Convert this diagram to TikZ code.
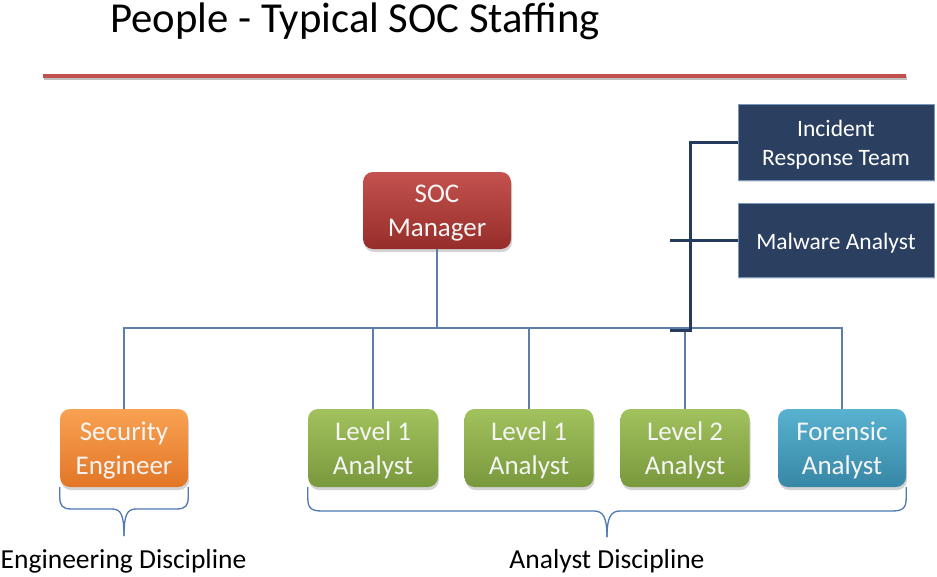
\documentclass[tikz,border=0pt]{standalone}
\usepackage{fontspec}
\setmainfont{Carlito}
\usetikzlibrary{shadows}
\definecolor{navy}{RGB}{43,63,96}
\definecolor{navyline}{RGB}{36,58,94}
\definecolor{navyborder}{RGB}{120,150,190}
\definecolor{connc}{RGB}{95,125,170}
\definecolor{bracec}{RGB}{79,120,180}
\definecolor{rule}{RGB}{192,80,77}
\definecolor{redtop}{RGB}{196,82,78}
\definecolor{redbot}{RGB}{150,45,42}
\definecolor{ortop}{RGB}{248,162,82}
\definecolor{orbot}{RGB}{226,118,38}
\definecolor{grtop}{RGB}{162,194,94}
\definecolor{grbot}{RGB}{120,152,60}
\definecolor{bltop}{RGB}{88,178,208}
\definecolor{blbot}{RGB}{55,135,165}
\definecolor{boxtext}{RGB}{245,245,245}
\tikzset{
  rolebox/.style={rounded corners=10pt, minimum width=129pt, minimum height=78pt,
    inner sep=0pt,
    drop shadow={opacity=0.35, shadow xshift=1pt, shadow yshift=-3pt}},
  roletext/.style={text=boxtext, align=center, inner sep=0pt,
    font=\fontsize{27}{34}\selectfont, yshift=-2.5pt},
  redbox/.style={rolebox, top color=redtop, bottom color=redbot},
  orbox/.style={rolebox, top color=ortop, bottom color=orbot},
  grbox/.style={rolebox, top color=grtop, bottom color=grbot},
  blbox/.style={rolebox, top color=bltop, bottom color=blbot},
  navybox/.style={fill=navy, draw=navyborder, line width=0.8pt, minimum width=196pt,
    inner sep=0pt,
    drop shadow={opacity=0.25, shadow xshift=1pt, shadow yshift=-2pt}},
  navytext/.style={text=white, align=center, inner sep=0pt,
    font=\fontsize{23.5}{29}\selectfont, yshift=-3pt},
  conn/.style={draw=connc, line width=1.5pt},
  navyconn/.style={draw=navyline, line width=3pt},
  bracepath/.style={draw=bracec, line width=1.3pt},
  lbl/.style={font=\fontsize{27.5}{33}\selectfont, inner sep=0pt, anchor=base}
}
\begin{document}
\begin{tikzpicture}[x=1pt,y=-1pt]
\useasboundingbox (0,0) rectangle (937,576);
% title
\node[font=\fontsize{42.7}{50}\selectfont, inner sep=0pt, anchor=base west] (title) at (110,32) {People - Typical SOC Staffing};
% rule
\coordinate (r1) at (43,76);
\coordinate (r2) at (906,76);
\draw[line width=4pt, draw=black!25] ([shift={(1,2)}]r1) -- ([shift={(1,2)}]r2);
\draw[line width=4pt, draw=rule] (r1) -- (r2);
% boxes
\node[redbox, minimum width=148pt, minimum height=77pt] (mgr) at (437,210.5) {};
\node[roletext] (mgrt) at (mgr.center) {SOC\\Manager};
\node[orbox, minimum width=128pt] (se) at (124,448) {};
\node[roletext] (set) at (se.center) {Security\\Engineer};
\node[grbox, minimum width=130pt] (l1a) at (373,448) {};
\node[roletext] (l1at) at (l1a.center) {Level 1\\Analyst};
\node[grbox] (l1b) at (529,448) {};
\node[roletext] (l1bt) at (l1b.center) {Level 1\\Analyst};
\node[grbox] (l2) at (685,448) {};
\node[roletext] (l2t) at (l2.center) {Level 2\\Analyst};
\node[blbox, minimum width=128pt] (fa) at (842,448) {};
\node[roletext] (fat) at (fa.center) {Forensic\\Analyst};
\node[navybox, minimum height=76pt] (irt) at (836,142) {};
\node[navytext] (irtt) at (irt.center) {Incident\\Response Team};
\node[navybox, minimum height=74pt] (mal) at (836,240) {};
\node[navytext] (malt) at (mal.center) {Malware Analyst};
% connectors
\coordinate (bus) at (437,328);
\draw[conn] (mgr.south) -- (bus);
\draw[conn] (se.north) -- (se.north |- bus) -- (fa.north |- bus) -- (fa.north);
\draw[conn] (l1a.north) -- (l1a.north |- bus);
\draw[conn] (l1b.north) -- (l1b.north |- bus);
\draw[conn] (l2.north) -- (l2.north |- bus);
% navy connectors
\coordinate (jn) at (690,330);
\draw[navyconn] (irt.west) -| (jn) -- ++(-20,0);
\draw[navyconn] (mal.west) -- ++(-68,0);
% braces
\coordinate (eb) at (124,536);
\draw[bracepath] (se.south west) -- ++(0,10)
  .. controls ++(0,8) and (62,509) .. (72,509) -- (112,509)
  .. controls (121,509) and (124,515) .. (eb);
\draw[bracepath] (se.south east) -- ++(0,10)
  .. controls ++(0,8) and (186,509) .. (176,509) -- (136,509)
  .. controls (127,509) and (124,515) .. (eb);
\coordinate (ab) at (607,537);
\draw[bracepath] (l1a.south west) -- ++(0,10)
  .. controls ++(0,10) and (310,511) .. (322,511) -- (594,511)
  .. controls (603,511) and (607,517) .. (ab);
\draw[bracepath] (fa.south east) -- ++(0,10)
  .. controls ++(0,10) and (904,511) .. (892,511) -- (620,511)
  .. controls (611,511) and (607,517) .. (ab);
% labels
\node[lbl] (eng) at (123.5,568) {Engineering Discipline};
\node[lbl] (ana) at (607,568) {Analyst Discipline};
\end{tikzpicture}
\end{document}
